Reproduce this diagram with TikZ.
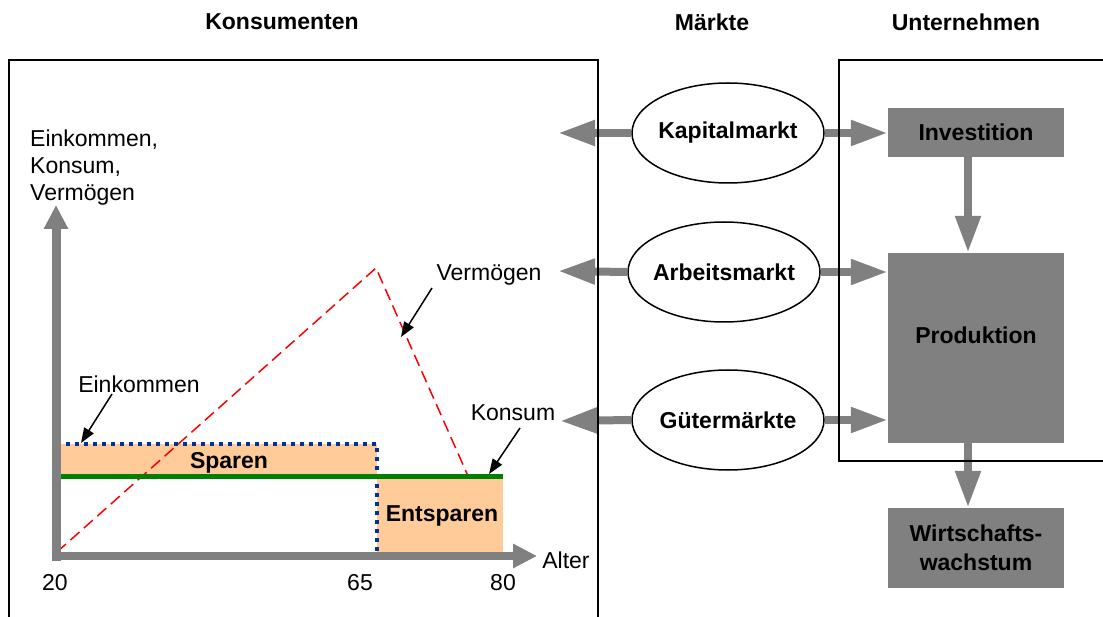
\documentclass[tikz,border=0pt]{standalone}
\usepackage{fontspec}
\setmainfont{Liberation Sans}
\usetikzlibrary{arrows.meta,shapes.geometric}
\definecolor{graya}{HTML}{808080}
\definecolor{orangef}{HTML}{FFCC99}
\definecolor{dblue}{HTML}{003399}
\definecolor{dgreen}{HTML}{008000}
\begin{document}
\begin{tikzpicture}[x=1pt,y=-1pt,
  every node/.style={font=\fontsize{23}{27}\selectfont, inner sep=0pt},
  ttl/.style={font=\fontsize{23}{27}\selectfont\bfseries},
  mkt/.style={draw, line width=1.5pt, ellipse, minimum width=192pt, minimum height=100pt, font=\fontsize{23}{27}\selectfont\bfseries},
  gbox/.style={fill=graya, minimum width=176pt, font=\fontsize{23}{29}\selectfont\bfseries, align=center},
  garrow/.style={draw=graya, line width=8pt, -{Triangle[length=37pt,width=24pt]}},
  axarrow/.style={draw=graya, line width=9pt, -{Triangle[length=24pt,width=23pt]}},
  blarrow/.style={draw=black, line width=1.5pt, -{Triangle[length=15pt,width=11pt]}},
  frame/.style={draw=black, line width=1.5pt}
]
\useasboundingbox (0,0) rectangle (1103,617);
\clip (0,0) rectangle (1103,617);

% titles
\node[ttl] (tK) at (282,22) {Konsumenten};
\node[ttl] (tM) at (712,22) {Märkte};
\node[ttl] (tU) at (966,22) {Unternehmen};

% market ellipses
\node[mkt] (km) at (728,133) {\makebox[0pt]{Kapitalmarkt}};
\node[mkt] (am) at (724,272) {\makebox[0pt]{Arbeitsmarkt}};
\node[mkt] (gm) at (728,420) {\makebox[0pt]{Gütermärkte}};

% company boxes
\node[gbox, minimum height=49pt] (inv) at (976,132.5) {Investition};
\node[gbox, minimum height=190pt] (prod) at (976,348) {\raisebox{26pt}{Produktion}};
\node[gbox, minimum height=80pt] (ww) at (976,548) {Wirtschafts-\\wachstum};

% left arrows from markets
\coordinate (kmL) at (558,133);
\coordinate (amL) at (558,271);
\coordinate (gmL) at (560,421);
\draw[garrow] (km.west) -- (kmL);
\draw[garrow] (am.west) -- (amL);
\draw[garrow] (gm.west) -- (gmL);

% right arrows to companies
\draw[garrow] (km.east) -- (km.east -| inv.west);
\draw[garrow] (am.east) -- (am.east -| prod.west);
\draw[garrow] (gm.east) -- (gm.east -| prod.west);

% vertical arrows
\coordinate (vx) at (968,0);
\draw[garrow] (inv.south -| vx) -- (prod.north -| vx);
\draw[garrow] (prod.south -| vx) -- (ww.north -| vx);

% chart fills
\fill[orangef] (57,444) rectangle (377,476);
\fill[orangef] (377,476) rectangle (503,552);
\node[font=\fontsize{23}{27}\selectfont\bfseries] (sp) at (229,463) {Sparen};
\node[font=\fontsize{23}{27}\selectfont\bfseries] (esp) at (442,516) {Entsparen};

% Vermoegen line
\coordinate (rs) at (57,552);
\coordinate (rp) at (376,268);
\coordinate (re) at (468,476);
\draw[red, line width=1.5pt, dash pattern=on 12pt off 6pt] (rs) -- (rp) -- (re);

% Einkommen dotted
\coordinate (b1) at (57,444);
\coordinate (b2) at (377,444);
\coordinate (b3) at (377,552);
\draw[dblue, line width=4pt, dash pattern=on 4pt off 5pt] (b1) -- (b2) -- (b3);

% Konsum line
\coordinate (g1) at (57,476);
\coordinate (g2) at (503,476);
\draw[dgreen, line width=5pt] (g1) -- (g2);

% axes
\coordinate (ya0) at (56,560.5);
\coordinate (ya1) at (56,205);
\coordinate (xa0) at (51.5,556);
\coordinate (xa1) at (537,556);
\draw[axarrow] (ya0) -- (ya1);
\draw[axarrow, line width=8pt] (xa0) -- (xa1);

% axis labels
\node[anchor=north west, align=left, font=\fontsize{23}{27}\selectfont] (ylab) at (30,130) {Einkommen,\\Konsum,\\Vermögen};
\node (l20) at (55,583) {20};
\node (l65) at (360,583) {65};
\node (l80) at (503,583) {80};
\node (alt) at (566,560) {Alter};

% annotations
\node (einl) at (139,384) {Einkommen};
\node (verl) at (489,275) {Vermögen};
\node (konl) at (513,413) {Konsum};
\coordinate (einS) at (112,394);
\coordinate (einT) at (81,443);
\coordinate (verS) at (432,288);
\coordinate (verT) at (401,337);
\coordinate (konS) at (520,428);
\coordinate (konT) at (489,474);
\draw[blarrow] (einS) -- (einT);
\draw[blarrow] (verS) -- (verT);
\draw[blarrow] (konS) -- (konT);

% frames
\draw[frame] (9,640) -- (9,60) -- (598,60) -- (598,640);
\draw[frame] (1120,60) -- (839,60) -- (839,461) -- (1120,461);
\end{tikzpicture}
\end{document}
